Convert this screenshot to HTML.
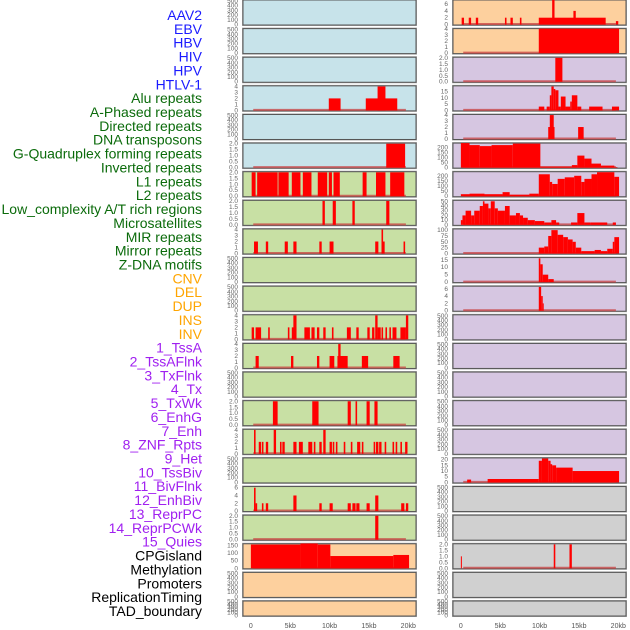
<!DOCTYPE html>
<html><head><meta charset="utf-8"><style>
html,body{margin:0;padding:0;background:#fff;}
svg{display:block;}
</style></head><body>
<svg id="chart" width="630" height="630" xmlns="http://www.w3.org/2000/svg" font-family="Liberation Sans, sans-serif"></svg>
<script>
// ---------- labels ----------
const labelNames = ["AAV2","EBV","HBV","HIV","HPV","HTLV-1","Alu repeats","A-Phased repeats","Directed repeats","DNA transposons","G-Quadruplex forming repeats","Inverted repeats","L1 repeats","L2 repeats","Low_complexity A/T rich regions","Microsatellites","MIR repeats","Mirror repeats","Z-DNA motifs","CNV","DEL","DUP","INS","INV","1_TssA","2_TssAFlnk","3_TxFlnk","4_Tx","5_TxWk","6_EnhG","7_Enh","8_ZNF_Rpts","9_Het","10_TssBiv","11_BivFlnk","12_EnhBiv","13_ReprPC","14_ReprPCWk","15_Quies","CPGisland","Methylation","Promoters","ReplicationTiming","TAD_boundary"];
const labelGroups = [6,13,5,15,5];
const groupColors = ["#1a1aff","#0b6b0b","#ffa500","#a020f0","#000000"];
// ---------- x axis ----------
const xTicks = [0,5,10,15,20];
const xTickLabels = ["0","5kb","10kb","15kb","20kb"];
// ---------- tick sets ----------
const tEmpty = [0,100,200,300,400,500];
const tTwo = [0,0.5,1,1.5,2];
const tFour = [0,1,2,3,4];
const tSix = [0,2,4,6];
const tFifteen = [0,5,10,15];
const tTwoHundred = [0,50,100,150,200];
// ---------- series (start kb, end kb, value) ----------
const L3 = [[9.9,11.4,2],[14.6,18.6,2],[16.1,17.1,4]];
const L5 = [[17.2,19.6,2]];
const L6 = [[0.1,0.6,2],[0.8,3.4,2],[3.5,4.8,2],[5.2,6.3,2],[6.6,7.7,2],[8.5,9.7,2],[9.9,10.3,2],[10.5,11.3,2],[14.2,14.7,2],[15.9,17.1,2],[17.7,19.5,2]];
const L7 = [[9.1,9.4,2],[10.4,10.8,2],[12.9,13.2,2],[17.2,17.6,2]];
const L8 = [[0.4,0.9,2],[1.9,2.2,2],[4.3,4.7,2],[5.4,5.8,2],[8.7,9.0,2],[10.0,10.5,2],[15.8,16.2,2],[16.6,17.0,2],[16.6,16.8,4],[19.4,19.6,2]];
const L11 = [[0.1,0.4,2],[0.6,1.3,2],[2.2,2.4,2],[4.7,4.9,2],[5.2,5.8,2],[5.4,5.8,4],[6.8,7.5,2],[7.7,8.1,2],[8.4,8.7,2],[9.2,9.5,2],[10.3,10.5,2],[12.2,12.7,2],[13.4,13.7,2],[14.8,15.1,2],[15.4,15.7,2],[15.8,16.1,4],[16.1,16.5,2],[16.6,16.8,2],[17.1,17.3,2],[17.6,17.8,2],[18.0,18.5,2],[19.0,19.7,2],[19.7,20.0,4]];
const L12 = [[0.6,1.0,2],[5.1,5.4,2],[8.4,8.7,2],[10.0,10.6,2],[11.0,12.3,2],[11.1,11.4,4],[14.1,14.9,2],[18.1,18.9,2]];
const L14 = [[2.8,3.4,2],[7.8,8.6,2],[12.3,12.7,2],[13.3,13.5,2],[14.7,15.1,2],[15.7,16.1,2]];
const L15 = [[0.4,0.6,4],[1.0,1.3,2],[1.4,1.6,2],[1.9,2.2,2],[2.9,3.2,4],[3.7,3.9,2],[4.0,4.3,2],[5.4,5.8,2],[6.1,6.6,2],[7.3,7.8,2],[8.0,8.2,2],[8.7,9.0,2],[9.2,9.5,4],[10.0,10.3,2],[10.4,10.6,2],[10.8,11.0,2],[11.8,12.0,2],[12.7,12.9,2],[13.5,13.9,2],[14.1,14.3,2],[15.6,15.8,2],[15.9,16.2,2],[16.3,16.6,2],[17.0,17.2,2],[18.0,18.2,2],[18.4,18.6,2],[19.0,19.2,2],[19.6,19.9,2]];
const L17 = [[0.4,0.6,6],[0.6,0.8,2],[1.4,1.6,2],[1.9,2.2,2],[5.4,5.8,4],[8.7,9.0,2],[10.0,10.4,2],[12.3,12.7,2],[12.9,13.3,2],[13.4,13.8,2],[14.7,15.1,2],[15.8,16.2,4],[19.1,19.5,2],[19.7,20.0,2]];
const L18 = [[15.8,16.2,2]];
const L19 = [[0,6.3,155],[6.3,8.5,162],[8.5,10.1,155],[10.1,18.1,80],[18.1,20.1,87]];
const R0 = [[0.1,0.4,2],[1.0,1.3,2],[1.9,2.2,2],[5.6,5.8,2],[6.3,6.6,2],[7.5,7.7,2],[9.9,18.4,2],[11.6,11.9,7.2],[14.3,14.6,4],[19.7,20.0,1]];
const R1 = [[9.9,20.1,4.1]];
const R2 = [[12.0,12.9,2]];
const R3 = [[9.9,10.6,3],[10.9,11.3,3],[11.3,11.5,12],[11.5,11.8,19],[11.8,12.0,17],[12.0,12.4,16],[12.4,12.7,3],[12.7,13.3,11],[13.3,13.9,3],[13.9,14.1,7],[14.1,14.8,12],[14.8,15.3,3],[16.3,18.0,3],[19.2,20.1,3]];
const R4 = [[11.1,11.9,2],[11.3,11.8,4],[14.9,15.6,2]];
const R5 = [[0,1.1,245],[1.1,2.4,225],[2.4,3.9,215],[3.9,6.6,225],[6.6,10.1,240],[10.1,14.1,10],[14.1,14.8,25],[14.8,15.7,120],[15.7,16.6,90],[16.6,17.8,40],[17.8,19.5,20],[19.5,19.9,5]];
const R6 = [[0,1.1,20],[1.1,3.0,25],[3.0,5.3,20],[5.3,6.2,40],[6.2,8.7,15],[8.7,9.9,25],[9.9,11.3,215],[11.3,11.6,140],[11.6,12.3,120],[12.3,13.2,170],[13.2,14.4,185],[14.4,15.3,200],[15.3,15.7,140],[15.7,16.6,170],[16.6,17.3,215],[17.3,19.5,235],[19.5,20.1,190]];
const R7 = [[0,0.2,10],[0.2,0.6,20],[0.6,1.3,30],[1.3,1.7,20],[1.7,2.4,30],[2.4,2.8,40],[2.8,3.0,50],[3.0,3.5,45],[3.5,3.8,35],[3.8,4.3,50],[4.3,4.7,35],[4.7,5.6,30],[5.6,6.2,40],[6.2,7.0,20],[7.0,7.5,25],[7.5,7.9,20],[7.9,8.5,15],[8.5,9.4,10],[9.4,10.6,8],[10.6,11.5,5],[11.5,12.1,10],[12.1,12.5,5],[14.0,14.8,5],[14.8,15.7,25],[15.7,16.5,5],[16.5,18.6,5],[19.3,19.7,5]];
const R8 = [[9.9,10.6,25],[10.6,11.1,30],[11.1,11.5,75],[11.5,12.3,100],[12.3,13.0,80],[13.0,13.6,70],[13.6,14.2,60],[14.2,14.6,50],[14.6,15.3,25],[15.3,17.0,10],[17.0,17.8,15],[17.8,18.6,10],[18.6,19.3,20],[19.3,19.5,50],[19.5,20.1,70]];
const R9 = [[9.9,10.1,16],[10.1,10.4,12],[10.4,11.1,5],[11.1,11.8,2]];
const R10 = [[9.9,10.2,6.5],[10.2,10.4,4],[10.4,10.5,2]];
const R16 = [[0.8,1.3,2.5],[3.4,9.9,3],[9.9,10.3,19],[10.3,11.1,21],[11.1,11.4,19],[11.4,11.6,16],[11.6,12.1,15],[12.1,14.2,13],[14.2,20.1,10]];
const R19 = [[0,0.1,1],[11.8,12.0,2],[13.8,14.1,2]];
const E = null;

const BLUE="#c7e3ea", GREEN="#c8e0a4", ORANGE="#fdd09e", PURPLE="#d6c6e1", GRAY="#d0d0d0";
// panel spec: [bars, ticks, ymax, bg]
const leftPanels = [
 [E,tEmpty,520,BLUE],[E,tEmpty,520,BLUE],[E,tEmpty,520,BLUE],[L3,tFour,4.1,BLUE],[E,tEmpty,520,BLUE],[L5,tTwo,2.05,BLUE],
 [L6,tTwo,2.05,GREEN],[L7,tTwo,2.05,GREEN],[L8,tFour,4.1,GREEN],[E,tEmpty,520,GREEN],[E,tEmpty,520,GREEN],[L11,tFour,4.1,GREEN],[L12,tFour,4.1,GREEN],
 [E,tEmpty,520,GREEN],[L14,tTwo,2.05,GREEN],[L15,tFour,4.1,GREEN],[E,tEmpty,520,GREEN],[L17,tSix,6.3,GREEN],[L18,tTwo,2.05,GREEN],
 [L19,[0,50,100,150],160,ORANGE],[E,tEmpty,520,ORANGE],[E,tEmpty,520,ORANGE]];
const rightPanels = [
 [R0,tSix,7.2,ORANGE],[R1,tFour,4.1,ORANGE],[R2,tTwo,2.05,PURPLE],[R3,tFifteen,19.5,PURPLE],[R4,tFour,4.1,PURPLE],[R5,tTwoHundred,245,PURPLE],
 [R6,tTwoHundred,240,PURPLE],[R7,[0,10,20,30,40,50],52,PURPLE],[R8,[0,25,50,75,100],105,PURPLE],[R9,tFifteen,16.5,PURPLE],[R10,tSix,6.7,PURPLE],
 [E,tEmpty,520,PURPLE],[E,tEmpty,520,PURPLE],[E,tEmpty,520,PURPLE],[E,tEmpty,520,PURPLE],[E,tEmpty,520,PURPLE],[R16,[0,5,10,15,20],21.5,PURPLE],
 [E,tEmpty,520,GRAY],[E,tEmpty,520,GRAY],[R19,tTwo,2.05,GRAY],[E,tEmpty,520,GRAY],[E,tEmpty,520,GRAY]];

const NS="http://www.w3.org/2000/svg";
const svg=document.getElementById('chart');
function mk(tag,attrs,parent){const e=document.createElementNS(NS,tag);for(const k in attrs)e.setAttribute(k,attrs[k]);(parent||svg).appendChild(e);return e;}

// labels
let li=0;
labelGroups.forEach((n,g)=>{for(let k=0;k<n;k++){
  const t=mk('text',{x:202,y:20+li*13.86,'text-anchor':'end','font-size':'14',fill:groupColors[g]});
  
  
  t.textContent=labelNames[li];li++;}});

function fmt(v,ticks){return ticks===tTwo?v.toFixed(1):String(v);}

function drawPanel(spec,col,row){
  const [bars,ticks,ymax,bg]=spec;
  const px=col===0?243:453, pw=173;
  const top=row*28.62, h=row===21?15:25;
  const g=mk('g',{});
  
  
  mk('rect',{x:px-0.5,y:top-0.5,width:pw+1,height:h+1,fill:'none',stroke:'#aaa','stroke-width':1},g);
  mk('rect',{x:px,y:top,width:pw,height:h,fill:bg,stroke:'#555','stroke-width':1},g);
  const xs=kb=>px+(kb+1)*7.87;
  const y0=top+h-0.5;
  const ys=v=>y0-(v/ymax)*(h-0.5);
  ticks.forEach(v=>{
    const t=mk('text',{x:px-5,y:ys(v)+2,'text-anchor':'end','font-size':'6.5',fill:'#666'},g);
    
    
    t.textContent=fmt(v,ticks);
  });
  if(bars){
    mk('line',{x1:xs(0.3),x2:xs(19.7),y1:y0-0.5,y2:y0-0.5,stroke:'#c84040','stroke-opacity':0.75,'stroke-width':2},g);
    bars.forEach(b=>{
      const r=mk('rect',{x:xs(b[0]),y:ys(b[2]),width:Math.max(1,xs(b[1])-xs(b[0])),height:y0-ys(b[2]),fill:'#ff0000'},g);
      
      
    });
  }
}
leftPanels.forEach((p,i)=>drawPanel(p,0,i));
rightPanels.forEach((p,i)=>drawPanel(p,1,i));

// x tick labels
[243,453].forEach((px,c)=>{xTicks.forEach((v,i)=>{
  const t=mk('text',{x:px+(v+1)*7.87,y:628,'text-anchor':'middle','font-size':'7',fill:'#555'});
  
  
  t.textContent=xTickLabels[i];});});
</script>
</body></html>
